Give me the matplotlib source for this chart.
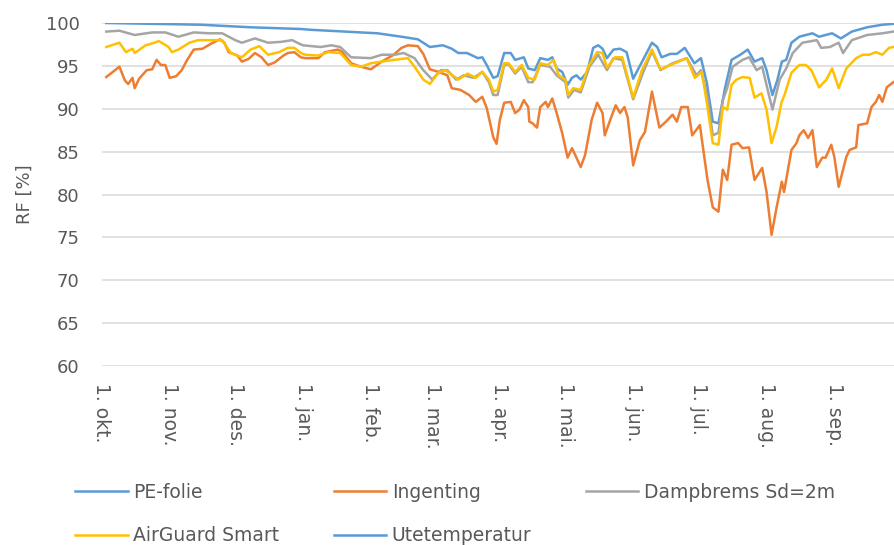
import numpy as np
import matplotlib
matplotlib.use('Agg')
import matplotlib.pyplot as plt

# dager etter 1. okt. og RF [%] lest av figuren
pe_days = [2, 45, 68, 91, 96, 111, 126, 137, 144.5, 150, 156, 160, 163, 167, 172, 174, 176, 179,
           181, 184, 187, 189, 193, 195, 198, 200.5, 204, 206, 208, 210.5, 213, 215, 217, 219, 222,
           224.7, 227, 229, 231, 234, 237, 240, 243, 247.5, 251.6, 254, 256, 260, 263, 266.6, 271,
           274, 276.7, 279.4, 282, 285, 288, 292, 295.4, 298.5, 302, 304, 306.7, 309, 311, 313,
           315.4, 319, 325, 328, 334, 338, 343, 350, 357, 362]
pe_rf = [100, 99.8, 99.5, 99.3, 99.2, 99.0, 98.8, 98.4, 98.1, 97.2, 97.4, 97.0, 96.5, 96.5, 95.9,
         96.0, 95.1, 93.6, 93.8, 96.5, 96.5, 95.7, 96.0, 94.7, 94.5, 95.9, 95.7, 96.0, 94.7, 94.3,
         92.8, 93.6, 93.9, 93.4, 94.3, 97.1, 97.4, 97.0, 95.9, 96.9, 97.0, 96.6, 93.5, 95.7, 97.7,
         97.2, 96.0, 96.4, 96.4, 97.1, 95.3, 95.9, 93.0, 88.5, 88.3, 92.4, 95.7, 96.3, 96.9, 95.5,
         95.9, 94.5, 91.6, 93.4, 95.5, 95.7, 97.7, 98.4, 98.8, 98.4, 98.8, 98.2, 99.0, 99.5, 99.8, 99.9]

ing_days = [2, 5, 8, 10.5, 12, 14, 15, 17, 20.5, 23, 25, 27, 29, 31, 34, 36.5, 39, 42, 46, 50, 54,
            56, 58, 62, 64, 67, 70, 73, 76, 79, 83, 85, 88, 91, 93, 99, 102, 108, 110, 114, 118.5,
            123, 128, 133.5, 137, 140, 144.5, 147, 150, 154, 158, 160, 164, 168, 171, 174, 176, 179,
            180.5, 182, 184, 187, 189, 191, 193, 195, 195.5, 197, 199, 200.5, 203, 204, 206, 208,
            210.5, 213, 215, 216.5, 219, 221, 224, 226.5, 229, 230, 232.5, 235, 237, 239, 240.5, 243,
            246, 248.4, 251.6, 254, 255, 258, 261, 263, 265, 268, 270, 273.5, 277, 279.4, 282, 284,
            286, 288, 291, 293, 296, 298.5, 302, 304, 306.3, 308.6, 311, 312, 315.4, 317.7, 319, 321,
            323, 325, 327, 329.5, 331, 333.6, 335, 337, 340.5, 342, 345, 346, 350, 352, 354, 355.5,
            357, 359, 362]
ing_rf = [93.7, 94.3, 94.9, 93.3, 92.9, 93.6, 92.4, 93.5, 94.5, 94.6, 95.7, 95.1, 95.1, 93.6, 93.8,
          94.5, 95.7, 96.9, 97.0, 97.6, 98.1, 97.7, 96.6, 96.2, 95.5, 95.8, 96.5, 96.0, 95.1, 95.4,
          96.2, 96.5, 96.6, 96.0, 95.9, 95.9, 96.6, 96.9, 96.6, 95.3, 94.9, 94.6, 95.5, 96.3, 97.1,
          97.4, 97.3, 96.4, 94.6, 94.3, 93.9, 92.4, 92.2, 91.6, 90.8, 91.4, 90.1, 86.7, 85.9, 88.7,
          90.7, 90.8, 89.5, 89.9, 91.0, 90.2, 88.5, 88.3, 87.8, 90.2, 90.8, 90.2, 91.2, 89.5, 87.2,
          84.3, 85.4, 84.6, 83.2, 84.6, 88.7, 90.7, 89.5, 86.9, 88.7, 90.4, 89.5, 90.2, 89.0, 83.4,
          86.3, 87.3, 92.0, 89.0, 87.8, 88.5, 89.3, 88.5, 90.2, 90.2, 86.9, 88.1, 81.7, 78.5, 78.0,
          82.9, 81.7, 85.8, 86.0, 85.4, 85.5, 81.7, 83.1, 80.3, 75.3, 78.5, 81.5, 80.3, 85.2, 86.0,
          86.9, 87.5, 86.6, 87.5, 83.2, 84.3, 84.3, 85.8, 84.4, 80.9, 84.4, 85.2, 85.5, 88.1, 88.3,
          90.2, 90.8, 91.6, 90.8, 92.5, 93.1]

damp_days = [2, 8, 15, 23, 29, 35, 42, 49, 55, 61, 64, 70, 76, 82, 87, 91, 92, 100, 105, 109, 114,
             123, 128, 134, 138, 143, 147, 150, 151, 155, 158, 162, 165.5, 170, 174, 177, 179, 181,
             184, 186, 189, 192, 195, 197, 200.5, 205, 208, 212, 213.3, 216, 219, 223, 227, 231, 234,
             238, 243, 247.5, 251.6, 255.5, 261, 267.5, 272, 274, 277, 279.4, 282, 284, 286, 288.5,
             293, 296, 299.5, 302, 306.7, 310, 313, 316, 320.4, 327, 329, 333, 337, 339, 343, 350,
             357, 362]
damp_rf = [99.0, 99.1, 98.6, 98.9, 98.9, 98.4, 98.9, 98.8, 98.8, 98.0, 97.7, 98.2, 97.7, 97.8, 98.0,
           97.5, 97.4, 97.2, 97.4, 97.2, 96.0, 95.9, 96.3, 96.3, 96.5, 95.9, 94.5, 93.7, 93.4, 94.5,
           94.5, 93.4, 93.9, 93.6, 94.3, 93.1, 91.6, 91.6, 95.1, 95.2, 94.1, 94.9, 93.1, 93.1, 95.1,
           94.9, 93.9, 93.1, 91.3, 92.2, 91.9, 94.9, 96.3, 94.5, 95.9, 95.7, 91.1, 94.2, 96.7, 94.5,
           95.3, 95.9, 93.9, 94.5, 91.4, 86.9, 87.2, 91.0, 92.4, 94.9, 95.7, 96.0, 94.5, 94.9, 89.9,
           93.4, 94.7, 96.5, 97.7, 98.0, 97.1, 97.2, 97.7, 96.5, 98.0, 98.6, 98.8, 99.0]

air_days = [2, 8, 11, 14, 15, 20, 24, 26, 30.5, 32, 35, 40, 44, 50, 55, 59, 64, 68, 72, 76, 81, 85,
            88, 91, 93, 98.9, 103.5, 109, 114, 118.5, 123, 128, 133.5, 140, 143, 147, 150, 154, 157,
            160.4, 163, 167.3, 171, 174, 177, 179, 181, 184, 186, 189, 192, 195, 198, 200.5, 204,
            206.5, 209, 212, 213.3, 215.6, 219, 222.4, 226.5, 229, 231, 234.7, 238, 243, 247, 251.6,
            255.5, 261, 267.5, 271.2, 274.4, 277, 279.4, 282, 284, 286, 288, 290.3, 293, 296.3,
            298.5, 301.7, 304, 306.3, 308.6, 310.8, 312.2, 315.4, 319, 322, 324.5, 328, 331.4, 334,
            337, 340.5, 345, 348, 351, 354, 357, 360, 362]
air_rf = [97.2, 97.7, 96.6, 97.0, 96.5, 97.4, 97.7, 97.9, 97.2, 96.6, 96.9, 97.7, 98.0, 98.0, 98.0,
          96.5, 96.0, 96.9, 97.3, 96.3, 96.6, 97.1, 97.1, 96.5, 96.3, 96.2, 96.6, 96.5, 95.1, 94.9,
          95.3, 95.5, 95.7, 95.9, 94.9, 93.4, 92.9, 94.2, 94.5, 93.9, 93.4, 94.1, 93.6, 94.3, 93.4,
          92.0, 92.2, 95.3, 95.3, 94.3, 95.1, 93.6, 93.4, 95.3, 95.1, 95.7, 93.9, 93.4, 91.6, 92.4,
          92.2, 94.9, 96.6, 96.5, 94.8, 96.0, 96.0, 91.3, 94.5, 96.9, 94.6, 95.2, 95.9, 93.6, 94.3,
          90.2, 86.0, 85.8, 90.2, 89.9, 92.8, 93.4, 93.7, 93.6, 91.3, 91.8, 89.9, 86.0, 87.9, 90.7,
          91.6, 94.2, 95.1, 95.1, 94.5, 92.5, 93.4, 94.7, 92.4, 94.7, 95.9, 96.3, 96.3, 96.6, 96.3,
          97.1, 97.2]

month_labels = ['1. okt.', '1. nov.', '1. des.', '1. jan.', '1. feb.', '1. mar.',
                '1. apr.', '1. mai.', '1. jun.', '1. jul.', '1. aug.', '1. sep.']
month_len = [31, 30, 31, 31, 28, 31, 30, 31, 30, 31, 31]
month_days = np.concatenate([[0], np.cumsum(month_len)])

txt = '#595959'
plt.rcParams['font.family'] = ['DejaVu Sans']

fig = plt.figure(figsize=(8.94, 5.45), dpi=100)
ax = fig.add_axes([0.114, 0.3284, 0.886, 0.6294])

lw = 1.8
l_pe, = ax.plot(pe_days, pe_rf, color='#5b9bd5', lw=lw, label='PE-folie')
l_ing, = ax.plot(ing_days, ing_rf, color='#ed7d31', lw=lw, label='Ingenting')
l_damp, = ax.plot(damp_days, damp_rf, color='#a5a5a5', lw=lw, label='Dampbrems Sd=2m')
l_air, = ax.plot(air_days, air_rf, color='#ffc000', lw=lw, label='AirGuard Smart')
l_ute, = ax.plot([], [], color='#5b9bd5', lw=lw, label='Utetemperatur')

ax.set_xlim(0, 362.3)
ax.set_ylim(60, 100)
ax.set_yticks(np.arange(60, 101, 5))
ax.set_xticks(month_days)
ax.set_xticklabels(month_labels, rotation=-90, color=txt, fontsize=13.5)
ax.tick_params(axis='y', labelcolor=txt, labelsize=13, length=0, pad=16)
ax.tick_params(axis='x', length=0, pad=12)
ax.grid(axis='y', color='#d9d9d9', lw=1.1)
ax.set_axisbelow(True)
for s in ax.spines.values():
    s.set_visible(False)
ax.set_ylabel('RF [%]', color=txt, fontsize=13, labelpad=9)

# rekkefolge slik at radene blir som i Excel
handles = [l_pe, l_air, l_ing, l_ute, l_damp]
fig.legend(handles, [h.get_label() for h in handles], loc='upper left',
           bbox_to_anchor=(0.084, 0.114), ncol=3, frameon=False,
           fontsize=13.5, labelcolor=txt, handlelength=2.8, handletextpad=0.3,
           columnspacing=2.9, labelspacing=1.3, borderaxespad=0, borderpad=0,
           bbox_transform=fig.transFigure)

fig.savefig('out.png', dpi=100)
